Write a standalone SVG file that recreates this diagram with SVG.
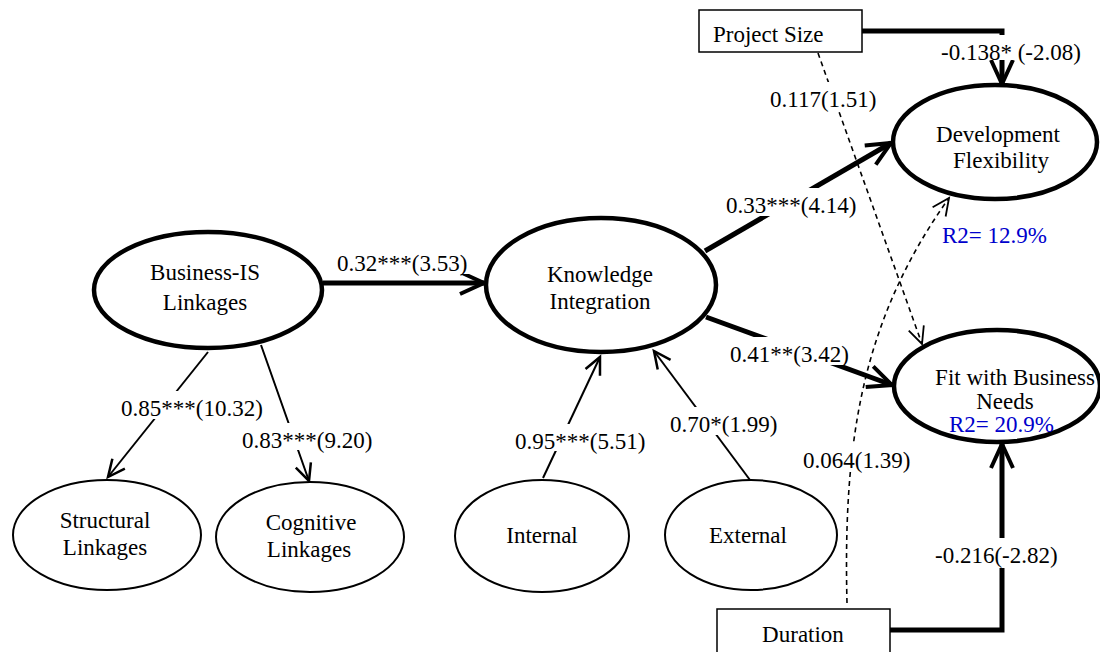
<svg xmlns="http://www.w3.org/2000/svg" width="1100" height="652" viewBox="0 0 1100 652">
<style>
text{font-family:"Liberation Serif","Times New Roman",serif;font-size:23px;fill:#000}
.c{text-anchor:middle}
.bg{fill:#fff;stroke:none}
.blue{fill:#0000cc}
.main{fill:#fff;stroke:#000;stroke-width:4.5}
.ind{fill:#fff;stroke:#000;stroke-width:2}
.box{fill:#fff;stroke:#000;stroke-width:1.5}
.thick{fill:none;stroke:#000;stroke-width:5;marker-end:url(#ahThick)}
.thin{fill:none;stroke:#000;stroke-width:2;marker-end:url(#ahThin)}
.dash{fill:none;stroke:#000;stroke-width:1.6;stroke-dasharray:5 4;marker-end:url(#ahDash)}
</style>
<defs>
<marker id="ahThick" markerUnits="userSpaceOnUse" viewBox="-30 -16 34 32" refX="0" refY="0" markerWidth="34" markerHeight="32" orient="auto" overflow="visible"><path d="M-24,-11 L0,0 L-24,11" fill="none" stroke="#000" stroke-width="4"/></marker>
<marker id="ahThin" markerUnits="userSpaceOnUse" viewBox="-22 -12 26 24" refX="0" refY="0" markerWidth="26" markerHeight="24" orient="auto" overflow="visible"><path d="M-17,-8 L0,0 L-17,8" fill="none" stroke="#000" stroke-width="2.5"/></marker>
<marker id="ahDash" markerUnits="userSpaceOnUse" viewBox="-22 -12 26 24" refX="0" refY="0" markerWidth="26" markerHeight="24" orient="auto" overflow="visible"><path d="M-17,-8 L0,0 L-17,8" fill="none" stroke="#000" stroke-width="1.8"/></marker>
</defs>
<rect width="1100" height="652" fill="#fff"/>

<g id="connectors">
<line class="thick" x1="323" y1="283" x2="484" y2="283"/>
<line class="thin" x1="208" y1="352" x2="108" y2="477"/>
<line class="thin" x1="261" y1="345" x2="309" y2="481"/>
<line class="thin" x1="543" y1="478" x2="600" y2="357"/>
<line class="thin" x1="750" y1="480" x2="654" y2="351"/>
<line class="thick" x1="705" y1="251" x2="891" y2="143"/>
<line class="thick" x1="706" y1="317" x2="892" y2="385"/>
<path class="thick" d="M862,31 L1002,31 L1002,84"/>
<path class="thick" d="M890,630 L1002,630 L1002,444"/>
<line class="dash" x1="818" y1="53" x2="922" y2="344"/>
<path class="dash" d="M847,603 C843,440 862,320 949,198"/>
<g id="labels">
<rect class="bg" x="335" y="246" width="134" height="28"/>
<text x="337" y="271">0.32***(3.53)</text>
<rect class="bg" x="119" y="391" width="146" height="28"/>
<text x="121" y="416">0.85***(10.32)</text>
<rect class="bg" x="240" y="423" width="134" height="27"/>
<text x="242" y="448">0.83***(9.20)</text>
<rect class="bg" x="513" y="424" width="134" height="27"/>
<text x="515" y="449">0.95***(5.51)</text>
<rect class="bg" x="668" y="407" width="111" height="28"/>
<text x="670" y="432">0.70*(1.99)</text>
<rect class="bg" x="724" y="188" width="134" height="28"/>
<text x="726" y="213">0.33***(4.14)</text>
<rect class="bg" x="728" y="337" width="123" height="28"/>
<text x="730" y="362">0.41**(3.42)</text>
<rect class="bg" x="939" y="35" width="149" height="25"/>
<text x="941" y="60">-0.138* (-2.08)</text>
<rect class="bg" x="768" y="82" width="111" height="28"/>
<text x="770" y="107">0.117(1.51)</text>
<rect class="bg" x="801" y="443" width="111" height="29"/>
<text x="803" y="468">0.064(1.39)</text>
<rect class="bg" x="933" y="538" width="127" height="30"/>
<text x="935" y="563">-0.216(-2.82)</text>
</g>
</g>

<g id="business-is">
<ellipse class="main" cx="208" cy="290" rx="114" ry="58"/>
<text class="c" x="205" y="280">Business-IS</text>
<text class="c" x="205" y="310">Linkages</text>
</g>
<g id="knowledge">
<ellipse class="main" cx="601" cy="285" rx="115" ry="67"/>
<text class="c" x="600" y="282">Knowledge</text>
<text class="c" x="600" y="309">Integration</text>
</g>
<g id="structural">
<ellipse class="ind" cx="107" cy="535" rx="94" ry="55"/>
<text class="c" x="105" y="528">Structural</text>
<text class="c" x="105" y="555">Linkages</text>
</g>
<g id="cognitive">
<ellipse class="ind" cx="310" cy="537" rx="94" ry="55"/>
<text class="c" x="311" y="530">Cognitive</text>
<text class="c" x="309" y="557">Linkages</text>
</g>
<g id="internal">
<ellipse class="ind" cx="542" cy="536" rx="87" ry="56"/>
<text class="c" x="542" y="543">Internal</text>
</g>
<g id="external">
<ellipse class="ind" cx="751" cy="535" rx="86" ry="55"/>
<text class="c" x="748" y="543">External</text>
</g>
<g id="dev-flex">
<ellipse class="main" cx="995" cy="142" rx="102" ry="57"/>
<text class="c" x="998" y="142">Development</text>
<text class="c" x="1001" y="168">Flexibility</text>
<text class="blue" x="942" y="243">R2= 12.9%</text>
</g>
<g id="fit">
<ellipse class="main" cx="997" cy="386" rx="103" ry="56"/>
<text class="c" x="1015" y="385">Fit with Business</text>
<text class="c" x="1005" y="409">Needs</text>
<text class="blue" x="949" y="432">R2= 20.9%</text>
</g>
<g id="project-size">
<rect class="box" x="699" y="10" width="163" height="42"/>
<text x="713" y="42">Project Size</text>
</g>
<g id="duration">
<rect class="box" x="717" y="609" width="173" height="50"/>
<text class="c" x="803" y="642">Duration</text>
</g>
</svg>
